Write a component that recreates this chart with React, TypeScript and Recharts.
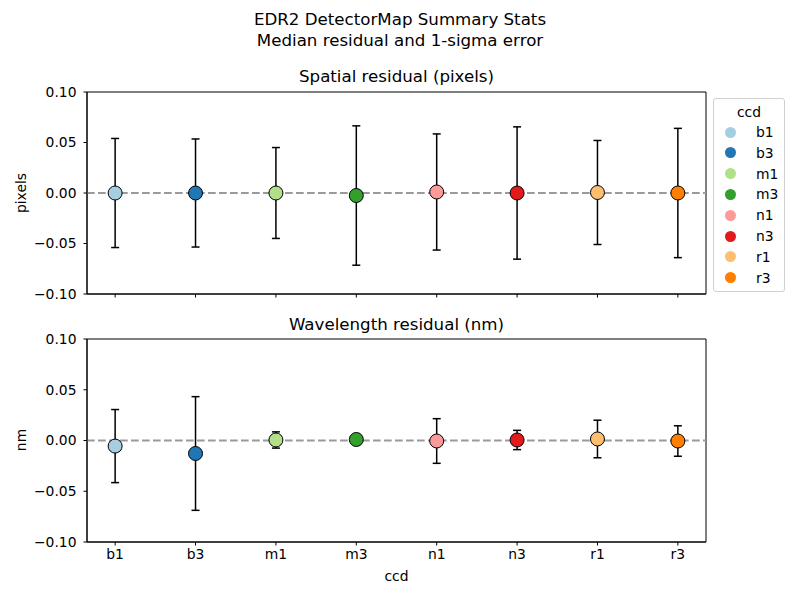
import React from "react";
import { ScatterChart, Scatter, XAxis, YAxis, ErrorBar, Cell, ReferenceLine, ReferenceArea } from "recharts";

const ccds = ['b1', 'b3', 'm1', 'm3', 'n1', 'n3', 'r1', 'r3'];
const colors = ['#a6cee3', '#1f78b4', '#b2df8a', '#33a02c', '#fb9a99', '#e31a1c', '#fdbf6f', '#ff7f00'];
const spatialMedian = [0.0, 0.0, 0.0, -0.0025, 0.001, 0.0, 0.0005, 0.0];
const spatialSigma = [0.054, 0.0535, 0.045, 0.069, 0.0575, 0.0655, 0.0515, 0.064];
const wavelengthMedian = [-0.0055, -0.0128, 0.0005, 0.001, -0.0005, 0.0005, 0.0015, -0.0005];
const wavelengthSigma = [0.036, 0.056, 0.008, 0.0005, 0.022, 0.0095, 0.0185, 0.015];
const yTicks = [-0.1, -0.05, 0, 0.05, 0.1];

const font = "'DejaVu Sans', sans-serif";
const SMALL = 13.89;
const BIG = 16.67;
const fmt = (v: number) => v.toFixed(2).replace('-', '\u2212');
const X_DOMAIN: [number, number] = [-0.35, 7.35];

const makeRows = (med: number[], sig: number[]) =>
  ccds.map((c, i) => ({ x: i, y: med[i], err: sig[i], ccd: c }));

const Dot = (props: any) => (
  <circle cx={props.cx} cy={props.cy} r={7} fill={props.fill} stroke="#000" strokeWidth={1} />
);

interface PanelProps {
  rows: { x: number; y: number; err: number; ccd: string }[];
  top: number;
  height: number;
  marginTop: number;
  xAxisHeight: number;
  showLabels: boolean;
}

const Panel: React.FC<PanelProps> = ({ rows, top, height, marginTop, xAxisHeight, showLabels }) => (
  <div style={{ position: 'absolute', left: 0, top, width: 800, height }}>
    <ScatterChart width={800} height={height} margin={{ top: marginTop, right: 94, bottom: 0, left: 37 }}>
      <XAxis
        type="number"
        dataKey="x"
        domain={X_DOMAIN}
        ticks={[0, 1, 2, 3, 4, 5, 6, 7]}
        allowDataOverflow
        height={xAxisHeight}
        tickSize={3.5}
        tickMargin={4}
        stroke="#000"
        tick={{ fill: '#000', fontSize: SMALL, fontFamily: font }}
        tickFormatter={(i: number) => (showLabels ? ccds[i] : '')}
      />
      <YAxis
        type="number"
        dataKey="y"
        domain={[-0.1, 0.1]}
        ticks={yTicks}
        allowDataOverflow
        width={50}
        tickSize={3.5}
        tickMargin={7}
        stroke="#000"
        tick={{ fill: '#000', fontSize: SMALL, fontFamily: font }}
        tickFormatter={fmt}
      />
      <ReferenceArea x1={X_DOMAIN[0]} x2={X_DOMAIN[1]} y1={-0.1} y2={0.1} fill="none" fillOpacity={0} stroke="#000" strokeWidth={1} />
      <ReferenceLine y={0} stroke="#9a9a9a" strokeWidth={2} strokeDasharray="7.7 3.3" />
      <Scatter data={rows} isAnimationActive={false} shape={Dot}>
        {rows.map((r, i) => <Cell key={r.ccd} fill={colors[i]} />)}
        <ErrorBar dataKey="err" direction="y" width={4} stroke="#000" strokeWidth={1.5} />
      </Scatter>
    </ScatterChart>
  </div>
);

const text = (content: string, x: number, y: number, size: number, rotate = false) => (
  <div
    style={{
      position: 'absolute',
      left: x,
      top: y,
      transform: `translate(-50%, -50%)${rotate ? ' rotate(-90deg)' : ''}`,
      fontSize: size,
      fontFamily: font,
      whiteSpace: 'nowrap',
      color: '#000',
      lineHeight: 1,
    }}
  >
    {content}
  </div>
);

export default function App() {
  const spatialRows = makeRows(spatialMedian, spatialSigma);
  const waveRows = makeRows(wavelengthMedian, wavelengthSigma);
  return (
    <div style={{ position: 'absolute', left: 0, top: 0, width: 800, height: 600, background: '#fff', overflow: 'hidden' }}>
      {text('EDR2 DetectorMap Summary Stats', 400, 20, BIG)}
      {text('Median residual and 1-sigma error', 400, 41, BIG)}
      {text('Spatial residual (pixels)', 396.5, 77, BIG)}
      {text('Wavelength residual (nm)', 396.5, 325, BIG)}
      <Panel rows={spatialRows} top={0} height={310} marginTop={92} xAxisHeight={16} showLabels={false} />
      <Panel rows={waveRows} top={300} height={300} marginTop={39} xAxisHeight={58} showLabels={true} />
      {text('pixels', 22, 193, SMALL, true)}
      {text('nm', 22, 440, SMALL, true)}
      {text('ccd', 396.5, 577, SMALL)}
      <div
        style={{
          position: 'absolute',
          left: 713,
          top: 98,
          width: 72,
          height: 194,
          border: '1px solid #d0d0d0',
          borderRadius: 3,
          fontFamily: font,
          fontSize: SMALL,
          boxSizing: 'border-box',
        }}
      >
        <div style={{ position: 'absolute', top: 13, left: 0, width: '100%', textAlign: 'center', transform: 'translateY(-50%)' }}>ccd</div>
        {ccds.map((c, i) => (
          <div key={c} style={{ position: 'absolute', left: 0, top: 33 + i * 20.8, transform: 'translateY(-50%)', display: 'flex', alignItems: 'center' }}>
            <span style={{ display: 'inline-block', width: 11, height: 11, borderRadius: '50%', background: colors[i], marginLeft: 11 }} />
            <span style={{ marginLeft: 20 }}>{c}</span>
          </div>
        ))}
      </div>
    </div>
  );
}
